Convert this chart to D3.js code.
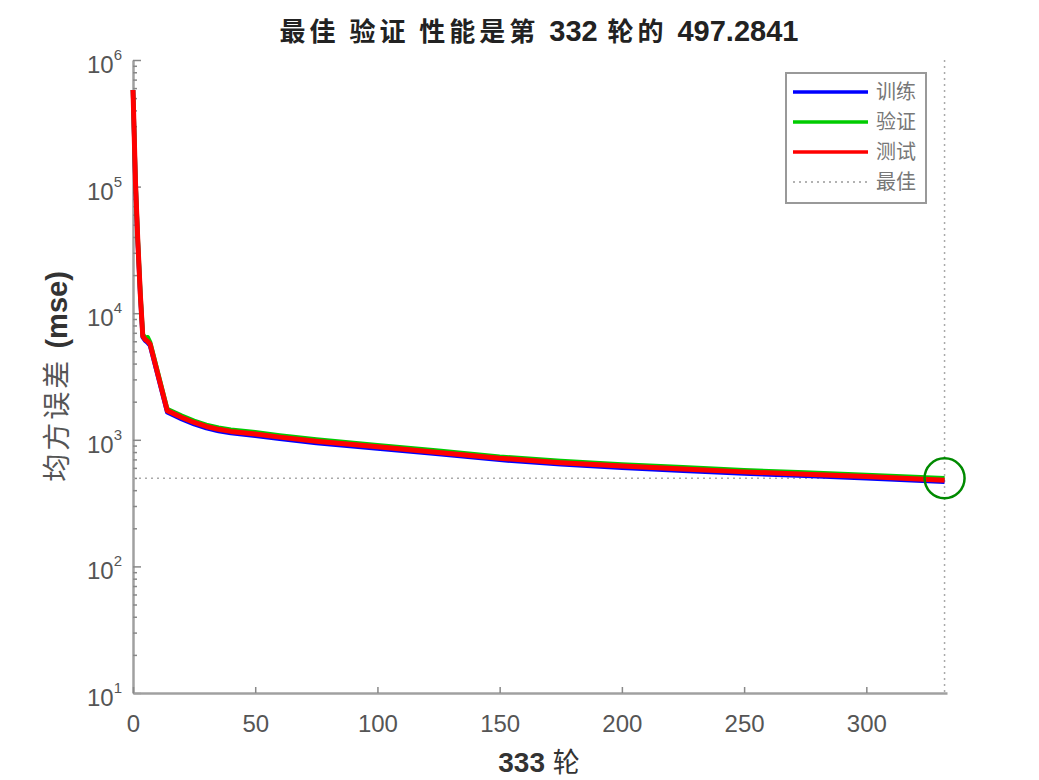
<!DOCTYPE html>
<html>
<head>
<meta charset="utf-8">
<script src="https://cdn.jsdelivr.net/npm/d3@7"></script>
<style>
  body { margin: 0; background: #fff; }
  svg { display: block; }
</style>
</head>
<body>
<svg id="chart" width="1039" height="780"></svg>
<script>
// valeurs (échelle log)
const epochs = [0, 1, 2, 3, 4, 5, 6, 7, 14, 20, 25, 30, 35, 40, 50, 60, 75, 100, 125, 150, 175, 200, 225, 250, 275, 300, 332];
const trainMse = [580000, 108000, 35000, 13600, 6450, 6050, 5850, 5550, 1650, 1455, 1328, 1237, 1174, 1130, 1077, 1018, 945, 853, 771, 694, 640, 601, 570, 541, 519, 497, 466];
const valMse = [580000, 112000, 37000, 14500, 6800, 6400, 6450, 5900, 1750, 1545, 1410, 1313, 1247, 1200, 1145, 1082, 1005, 906, 818, 736, 680, 638, 606, 575, 551, 528, 497.2841];
const testMse = [580000, 110000, 36000, 14000, 6600, 6200, 6000, 5700, 1700, 1500, 1370, 1275, 1210, 1165, 1110, 1050, 975, 880, 795, 715, 660, 620, 588, 558, 535, 512, 480];

const bestEpoch = 332;
const bestVal = 497.2841;
const totalEpochs = 333;

const xTicks = [0, 50, 100, 150, 200, 250, 300];
const yExponents = [1, 2, 3, 4, 5, 6];

const seriesNames = ["训练", "验证", "测试", "最佳"];
const seriesColors = ["#0000ff", "#00cc00", "#ff0000", "#999999"];

const latin = "'Liberation Sans', Arial, sans-serif";
const cjk = "'Noto Sans CJK SC', sans-serif";

const svg = d3.select("#chart");

const x = d3.scaleLinear().domain([0, totalEpochs]).range([133, 947]);
const y = d3.scaleLog().domain([10, 1e6]).range([693, 60]);

// axe Y : graduations majeures et mineures vers l'intérieur
const yMajor = yExponents.map(e => Math.pow(10, e));
const yMinor = [];
yExponents.slice(0, -1).forEach(e => {
    for (let k = 2; k <= 9; k++) yMinor.push(k * Math.pow(10, e));
});

const axisColor = "#a0a0a0";

const gy = svg.append("g").attr("transform", `translate(${x(0)},0)`);
gy.call(d3.axisLeft(y).tickValues(yMajor).tickSizeInner(-8).tickSizeOuter(0).tickFormat(""));
gy.append("g").call(d3.axisLeft(y).tickValues(yMinor).tickSizeInner(-4).tickSizeOuter(0).tickFormat(""))
    .select(".domain").remove();
gy.selectAll(".domain").attr("stroke", axisColor).attr("stroke-width", 2.5);
gy.selectAll(".tick line").attr("stroke", "#888").attr("stroke-width", 1.5);

// étiquettes 10^n
const yLabels = svg.append("g");
yExponents.forEach(e => {
    const t = yLabels.append("text")
        .attr("x", 122)
        .attr("y", y(Math.pow(10, e)) + 13)
        .attr("text-anchor", "end")
        .attr("fill", "#555")
        .style("font-family", latin);
    t.append("tspan").text("10").style("font-size", "24px");
    t.append("tspan").text(e).attr("dy", -13).style("font-size", "15px");
});

// axe X
const gx = svg.append("g").attr("transform", `translate(0,${y(10)})`);
gx.call(d3.axisBottom(x).tickValues(xTicks).tickSizeInner(-6).tickSizeOuter(0).tickPadding(30));
gx.select(".domain").attr("stroke", axisColor).attr("stroke-width", 2.5);
gx.selectAll(".tick line").attr("stroke", "#888").attr("stroke-width", 1.5);
gx.selectAll(".tick text")
    .attr("y", 39).attr("dy", 0)
    .attr("fill", "#555")
    .style("font-family", latin)
    .style("font-size", "24px");

// lignes pointillées du meilleur epoch
svg.append("line")
    .attr("x1", x(0)).attr("x2", x(bestEpoch))
    .attr("y1", y(bestVal)).attr("y2", y(bestVal))
    .attr("stroke", "#aaa").attr("stroke-width", 1.5).attr("stroke-dasharray", "2,4");
svg.append("line")
    .attr("x1", x(bestEpoch)).attr("x2", x(bestEpoch))
    .attr("y1", y(1e6)).attr("y2", y(10))
    .attr("stroke", "#aaa").attr("stroke-width", 1.5).attr("stroke-dasharray", "2,4");

// courbes
const line = d3.line()
    .x(d => x(d[0]))
    .y(d => y(d[1]));

[trainMse, valMse, testMse].forEach((vals, i) => {
    svg.append("path")
        .datum(epochs.map((e, j) => [e, vals[j]]))
        .attr("fill", "none")
        .attr("stroke", seriesColors[i])
        .attr("stroke-width", i === 2 ? 5 : 4.5)
        .attr("stroke-linejoin", "round")
        .attr("d", line);
});

// cercle du meilleur
svg.append("circle")
    .attr("cx", x(bestEpoch)).attr("cy", y(bestVal))
    .attr("r", 20)
    .attr("fill", "none")
    .attr("stroke", "#008a00")
    .attr("stroke-width", 2.5);

// légende
const lg = svg.append("g");
lg.append("rect")
    .attr("x", 786).attr("y", 73).attr("width", 140).attr("height", 130)
    .attr("fill", "#fff").attr("stroke", "#999").attr("stroke-width", 2);
seriesNames.forEach((name, i) => {
    const ly = 92 + i * 30;
    lg.append("line")
        .attr("x1", 793).attr("x2", 868).attr("y1", ly).attr("y2", ly)
        .attr("stroke", seriesColors[i])
        .attr("stroke-width", i < 3 ? 3.5 : 1.5)
        .attr("stroke-dasharray", i < 3 ? null : "2,4");
    lg.append("text")
        .attr("x", 876).attr("y", ly + 7)
        .attr("fill", "#777")
        .style("font-family", cjk)
        .style("font-size", "20px")
        .text(name);
});

// titre
const title = svg.append("text")
    .attr("x", 539).attr("y", 41)
    .attr("text-anchor", "middle")
    .attr("fill", "#222")
    .style("font-weight", "bold");
title.append("tspan").text("最佳 验证 性能是第 ").style("font-family", cjk).style("font-size", "26px").style("letter-spacing", "4px");
title.append("tspan").text(bestEpoch).style("font-family", latin).style("font-size", "29px");
title.append("tspan").text(" 轮的 ").style("font-family", cjk).style("font-size", "26px").style("letter-spacing", "4px");
title.append("tspan").text(bestVal.toFixed(4)).style("font-family", latin).style("font-size", "29px");

// titre axe X
const xl = svg.append("text")
    .attr("x", 539).attr("y", 772)
    .attr("text-anchor", "middle")
    .attr("fill", "#333");
xl.append("tspan").text(totalEpochs + " ").style("font-family", latin).style("font-weight", "bold").style("font-size", "28px");
xl.append("tspan").text("轮").style("font-family", cjk).style("font-size", "27px");

// titre axe Y
const yl = svg.append("text")
    .attr("transform", `translate(67,${(y(10) + y(1e6)) / 2}) rotate(-90)`)
    .attr("text-anchor", "middle")
    .attr("fill", "#333");
yl.append("tspan").text("均方误差 ").attr("fill", "#555").style("font-family", cjk).style("font-size", "28px").style("letter-spacing", "3px");
yl.append("tspan").text("(mse)").style("font-family", latin).style("font-weight", "bold").style("font-size", "29px");
</script>
</body>
</html>
